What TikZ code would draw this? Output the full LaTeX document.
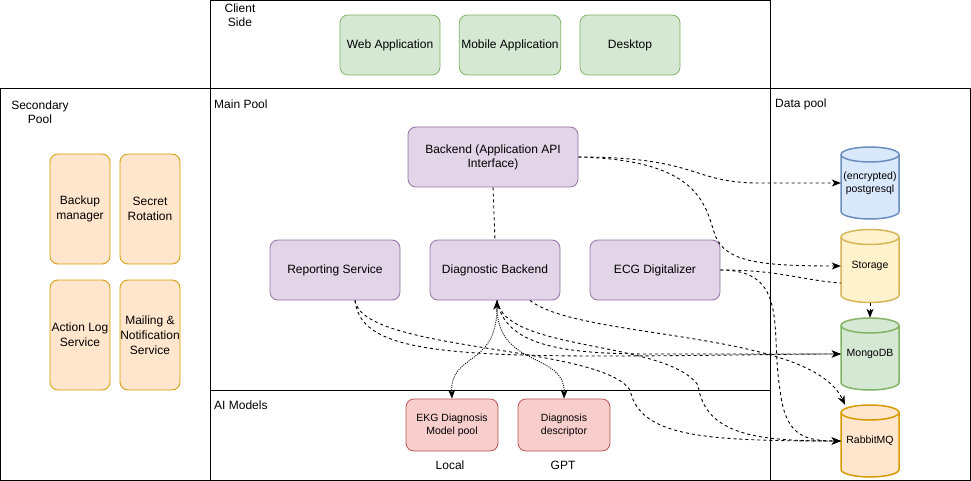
\documentclass[tikz,border=0pt]{standalone}
\usepackage{fontspec}
\setmainfont{Liberation Sans}
\usetikzlibrary{arrows.meta}
\definecolor{gfill}{HTML}{D5E8D4}\definecolor{gline}{HTML}{82B366}
\definecolor{pfill}{HTML}{E1D5E7}\definecolor{pline}{HTML}{9673A6}
\definecolor{ofill}{HTML}{FFE6CC}\definecolor{oline}{HTML}{D79B00}
\definecolor{rfill}{HTML}{F8CECC}\definecolor{rline}{HTML}{B85450}
\definecolor{bfill}{HTML}{DAE8FC}\definecolor{bline}{HTML}{6C8EBF}
\definecolor{yfill}{HTML}{FFF2CC}\definecolor{yline}{HTML}{D6B656}
\newcommand{\mycyl}[7]{%
  \path[fill=#4,draw=#5,line width=1.5pt] ({#1-29},{#2-#3/2+7.5}) -- ({#1-29},{#2+#3/2-7.5})
    arc[start angle=180,end angle=360,x radius=29pt,y radius=7.5pt]
    -- ({#1+29},{#2-#3/2+7.5})
    arc[start angle=0,end angle=180,x radius=29pt,y radius=7.5pt] -- cycle;
  \draw[#5,line width=1.5pt] ({#1-29},{#2-#3/2+7.5}) arc[start angle=180,end angle=360,x radius=29pt,y radius=7.5pt];
  \node[cyltext,minimum height=#3pt] (#6) at (#1,#2) {#7};
}
\tikzset{
  pool/.style={draw=black,line width=1pt},
  lbl/.style={inner sep=0pt,align=center},
  box/.style={draw,rounded corners=8pt,line width=0.8pt,align=center,inner sep=2pt},
  gbox/.style={box,fill=gfill,draw=gline,minimum width=100pt,minimum height=60pt},
  pbox/.style={box,fill=pfill,draw=pline,minimum width=130pt,minimum height=60pt},
  obox/.style={box,fill=ofill,draw=oline,minimum width=60pt,minimum height=110pt,inner sep=0pt,font=\fontsize{12}{15}\selectfont},
  rbox/.style={box,fill=rfill,draw=rline,minimum width=92pt,minimum height=52pt,font=\fontsize{10.5}{13}\selectfont},
  cyltext/.style={inner sep=0pt,minimum width=58pt,align=center,font=\fontsize{10.5}{13}\selectfont},
  dedge/.style={draw=black,line width=0.9pt,dash pattern=on 3pt off 3pt},
  dotedge/.style={draw=black,line width=0.9pt,dash pattern=on 1pt off 1.2pt},
  tip/.style={-{Stealth[length=9pt,width=7pt,inset=2.5pt]}},
  tips/.style={{Stealth[length=9pt,width=7pt,inset=2.5pt]}-{Stealth[length=9pt,width=7pt,inset=2.5pt]}}
}
\begin{document}
\begin{tikzpicture}[x=1pt,y=-1pt,font=\fontsize{12}{14}\selectfont]
\useasboundingbox (0,0) rectangle (971,481);
% pools
\draw[pool] (210.5,0.5) rectangle (770.5,88.5);
\draw[pool] (0.5,88.5) rectangle (210.5,480.5);
\draw[pool] (210.5,88.5) rectangle (770.5,480.5);
\draw[pool] (770.5,88.5) rectangle (970.5,480.5);
\draw[pool] (210.5,390.5) -- (770.5,390.5);
% pool labels
\node[lbl] (lclient) at (240,15) {Client\\Side};
\node[lbl] (lsec) at (40,112) {Secondary\\Pool};
\node[lbl,anchor=west] (lmain) at (214,104) {Main Pool};
\node[lbl,anchor=west] (ldata) at (775,104) {Data pool};
\node[lbl,anchor=west] (lai) at (214,405) {AI Models};
% client
\node[gbox] (web) at (390,45) {Web Application};
\node[gbox] (mob) at (510,45) {Mobile Application};
\node[gbox] (desk) at (630,45) {Desktop};
% main
\node[pbox,minimum width=170pt] (be) at (493,157) {Backend (Application API\\Interface)};
\node[pbox] (rep) at (335,270) {Reporting Service};
\node[pbox] (diag) at (495,270) {Diagnostic Backend};
\node[pbox] (ecg) at (655,270) {ECG Digitalizer};
% secondary
\node[obox] (backup) at (80,209) {Backup\\manager};
\node[obox] (secret) at (150,209) {Secret\\Rotation};
\node[obox] (alog) at (80,335) {Action Log\\Service};
\node[obox] (mail) at (150,335) {Mailing \&\\Notification\\Service};
% AI
\node[rbox] (ekg) at (452,425) {EKG Diagnosis\\Model pool};
\node[rbox] (desc) at (564,425) {Diagnosis\\descriptor};
\node[lbl] (local) at (450,465) {Local};
\node[lbl] (gpt) at (563,465) {GPT};
% data
\mycyl{870}{183}{72}{bfill}{bline}{pg}{(encrypted)\\postgresql}
\mycyl{870}{266}{73}{yfill}{yline}{st}{Storage}
\mycyl{870}{354}{72}{gfill}{gline}{mg}{MongoDB}
\mycyl{870}{441}{72}{ofill}{oline}{rb}{RabbitMQ}
% edges
\draw[dedge,tip] (be.east) .. controls (700,157) and (690,183) .. (760,183) -- (pg.west);
\draw[dedge,tip] (be.east) .. controls (700,160) and (705,205) .. (715,235) .. controls (725,262) and (760,266) .. (st.west);
\draw[dedge] (be.south) -- (diag.north);
\draw[dedge] (ecg.east) .. controls (780,270) and (800,280) .. ([yshift=-17pt]st.west);
\draw[dedge,tip] (ecg.east) .. controls (790,270) and (770,330) .. (780,390) .. controls (785,432) and (800,441) .. (rb.west);
\draw[dedge,tip] (st.south) -- (mg.north);
\draw[dedge,tip] ([xshift=20pt]rep.south) .. controls (360,345) and (420,356) .. (600,356) .. controls (700,356) and (780,354) .. (mg.west);
\draw[dedge,tip] ([xshift=20pt]rep.south) .. controls (362,352) and (600,345) .. (630,390) .. controls (640,436) and (700,441) .. (rb.west);
\draw[dedge,tip] ([xshift=2pt]diag.south) .. controls (505,345) and (560,354) .. (650,354) -- (mg.west);
\draw[dedge,tip] ([xshift=2pt]diag.south) .. controls (505,352) and (665,340) .. (698,385) .. controls (705,436) and (760,441) .. (rb.west);
\draw[dedge,tip] ([xshift=35pt]diag.south) .. controls (580,340) and (810,330) .. ([xshift=-25pt]rb.north);
\draw[dotedge,tips] (ekg.north) .. controls (450,352) and (497,368) .. ([xshift=2pt]diag.south);
\draw[dotedge,tips] (desc.north) .. controls (565,352) and (497,368) .. ([xshift=2pt]diag.south);
\end{tikzpicture}
\end{document}
